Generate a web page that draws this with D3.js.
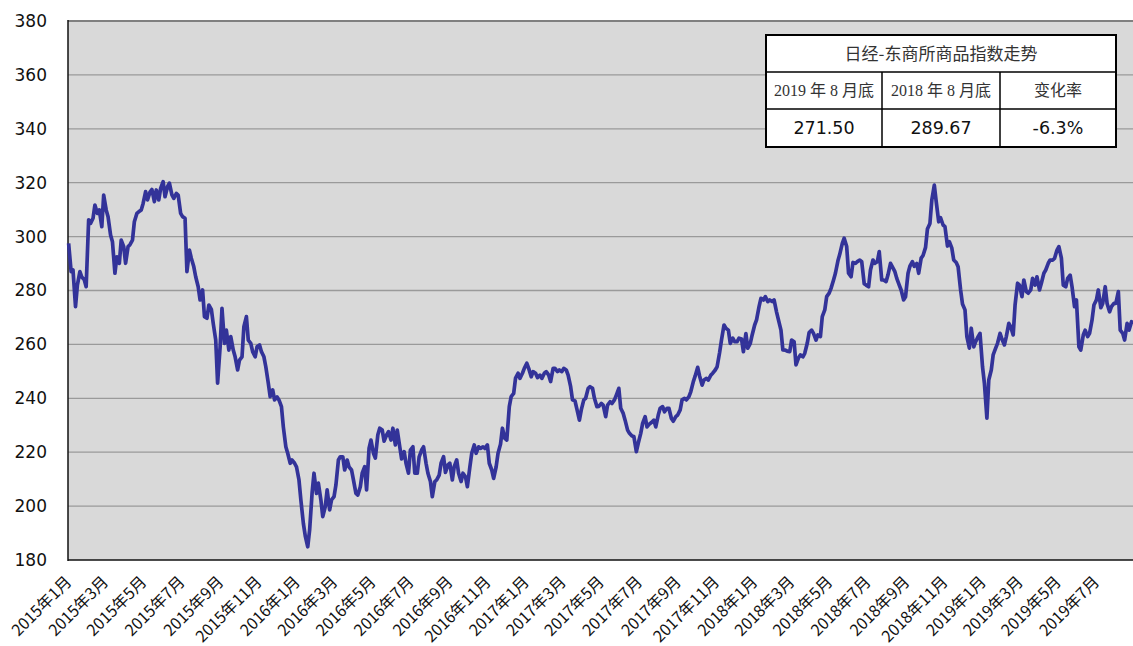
<!DOCTYPE html>
<html>
<head>
<meta charset="utf-8">
<script src="https://cdn.jsdelivr.net/npm/d3@7"></script>
<style>
  body { margin: 0; background: #fff; }
  svg { display: block; }
</style>
</head>
<body>
<div id="chart"></div>
<script>
// index values, read every half week starting 2015-01-02
const values = [
  297.5, 287, 287.6, 274, 282, 287, 285, 284, 281.4, 306.2,
  304.9, 306.8, 311.7, 308.6, 309.9, 303.7, 315.4, 309.9, 307.4, 300.6,
  298.1, 286.4, 292.5, 290.1, 298.7, 296.3, 290.1, 296.3, 297, 298.7,
  305.5, 308.6, 309.2, 309.9, 312.3, 316.7, 313.6, 316.5, 317.5, 313.0,
  317.3, 313.6, 317.9, 320.4, 314.8, 318.5, 319.8, 315.5, 314.2, 316.0,
  315.4, 308.6, 307.4, 306.8, 287.0, 295, 292, 288.8, 285.1, 281.4,
  276.5, 280.2, 270.3, 269.7, 274.6, 273, 267.8, 261.6, 245.6, 259,
  273.4, 260.4, 265.3, 257.9, 262.9, 257.9, 255.4, 250.5, 254.2, 255.4,
  266.6, 270.3, 261.6, 260.4, 257.3, 255.4, 259.1, 259.8, 257.3, 255.4,
  251.7, 245.6, 240.6, 243.1, 239.4, 240.5, 239.4, 236.9, 229.4, 222.0,
  219.6, 215.9, 217.1, 215.9, 214.6, 209.7, 202.3, 193.6, 189, 184.9,
  191.1, 205, 212.2, 204.7, 208.5, 202.3, 196.1, 199.8, 206.0, 198.6,
  202.3, 203.5, 207.8, 217.1, 218.3, 218.3, 213.4, 217.1, 214.5, 213.4,
  209.7, 204.7, 204.1, 207.2, 212.2, 214.6, 206.0, 221.5, 224.5, 219.6,
  217.8, 226.5, 228.9, 228.2, 224.1, 226.4, 227.6, 224.5, 228.9, 222.7,
  228.2, 222.0, 217.5, 220.2, 215.9, 212.2, 220.8, 222.0, 212.2, 212.2,
  218.3, 220.8, 222.0, 215.9, 212.2, 209.1, 203.5, 209.1, 209.7, 211.5,
  215.9, 218.3, 212.5, 215.3, 215.9, 209.7, 214.6, 217.1, 212.2, 209.1,
  212.2, 210.9, 207.2, 214.5, 219.6, 222.7, 219.6, 222.0, 221.4, 222.0,
  221.4, 222.7, 215.9, 213.4, 210.3, 214.6, 219.6, 223, 228.9, 225.1,
  224.5, 236.9, 240.6, 241.8, 247.5, 249.3, 247.4, 249.3, 251.1, 253.0,
  251.1, 248.0, 249.9, 249.3, 247.7, 248.6, 247.4, 249.3, 249.9, 248.6,
  246.2, 251.1, 251.1, 249.9, 250.5, 249.9, 251.1, 250.5, 248.6, 244.3,
  239.4, 239, 236, 231.9, 235.7, 239.4, 240.0, 243.7, 244.3, 243.7,
  240.0, 236.9, 237, 238.1, 237.5, 233.2, 237.5, 238.7, 238.1, 239.4,
  241.2, 243.7, 236.3, 234.4, 231.9, 228.2, 227.0, 226, 225.8, 220.2,
  223.3, 227.0, 230.7, 233.2, 229.4, 230.5, 231, 231.9, 229.4, 233.8,
  236.3, 236.9, 235.0, 236.3, 236.3, 232.5, 231.5, 233.2, 233.8, 235.7,
  239.4, 240.0, 239.4, 240.6, 242.5, 246.2, 248.3, 251.5, 248.3, 244.9,
  246.8, 247.4, 246.8, 248.6, 249.3, 250.5, 251.7, 257, 261.6, 267.2,
  266.0, 265.3, 260.4, 262.3, 261.0, 261.0, 262.3, 262, 257.3, 264,
  258.6, 260.4, 263.5, 267.2, 269.1, 274, 277.1, 276.5, 277.7, 275.9,
  276.5, 275.9, 276.5, 272, 269.1, 265.3, 258, 257.9, 257.5, 257.3,
  261.6, 261, 252.4, 255, 256.1, 255.4, 256.7, 260.4, 264.4, 265.3,
  264.1, 261.6, 263.5, 262.9, 270.3, 272.8, 277.7, 279.0, 280.8, 283.9,
  286.4, 291, 293.5, 297.5, 299.4, 296.3, 286.4, 285.1, 290.4, 290.1,
  290.7, 291.3, 290.7, 282.5, 282.0, 281.4, 287.6, 291.3, 290.1, 290.7,
  294.4, 283.9, 283.9, 283.3, 285.8, 290.1, 288.8, 287, 284.5, 282.0,
  280.2, 276.5, 277.7, 286.4, 289, 290.7, 289, 290, 286.4, 292,
  293, 296, 302.8, 304.9, 313.6, 319.1, 313.0, 305.5, 307, 304.3,
  303.7, 296.5, 298.1, 295.7, 291.3, 290.4, 288.8, 280.2, 275, 272.8,
  262.9, 258.6, 266.0, 259.1, 261, 262.9, 264.1, 251.7, 245.6, 232.6,
  246.8, 250.5, 256.1, 258.6, 260.4, 264.1, 262, 259.8, 262.9, 267.8,
  266.6, 263.5, 274.6, 282.7, 282.0, 277.7, 283.9, 279.6, 279.0, 280.2,
  284.5, 282.0, 285.1, 280.2, 282.7, 286.4, 287.6, 290.1, 291.3, 291.3,
  291.9, 295.0, 296.3, 292, 282.0, 281.4, 284.5, 285.7, 281.4, 274.0,
  276.5, 259.1, 257.9, 263.5, 265.3, 262.9, 264.1, 269.1, 274.6, 276.5,
  280.2, 273.6, 275.2, 281.4, 275.2, 272.1, 274.0, 275.2, 275.2, 279.6,
  265.3, 264.1, 261.6, 267.8, 265.3, 268.4, 267.8
];
const startDate = new Date(2015, 0, 2);
const dates = values.map((v, i) => d3.timeDay.offset(startDate, Math.round(i * 3.5)));

const yTicks = [180, 200, 220, 240, 260, 280, 300, 320, 340, 360, 380];
const xTickLabels = [
  "2015年1月", "2015年3月", "2015年5月", "2015年7月", "2015年9月", "2015年11月",
  "2016年1月", "2016年3月", "2016年5月", "2016年7月", "2016年9月", "2016年11月",
  "2017年1月", "2017年3月", "2017年5月", "2017年7月", "2017年9月", "2017年11月",
  "2018年1月", "2018年3月", "2018年5月", "2018年7月", "2018年9月", "2018年11月",
  "2019年1月", "2019年3月", "2019年5月", "2019年7月"
];
const xTickDates = d3.timeMonth.every(2).range(new Date(2015, 0, 1), new Date(2019, 7, 1));

const tableTitle = "日经-东商所商品指数走势";
const tableHeaders = ["2019 年 8 月底", "2018 年 8 月底", "变化率"];
const tableValues = ["271.50", "289.67", "-6.3%"];

const width = 1133, height = 646;
const plot = { left: 68, right: 1133, top: 21, bottom: 560 };

const x = d3.scaleTime()
  .domain([new Date(2015, 0, 1), new Date(2019, 7, 31)])
  .range([plot.left, 1134]);
const y = d3.scaleLinear().domain([180, 380]).range([plot.bottom, plot.top]);

const svg = d3.select("#chart").append("svg")
  .attr("width", width)
  .attr("height", height);

// plot background
svg.append("rect")
  .attr("x", plot.left).attr("y", plot.top)
  .attr("width", plot.right - plot.left).attr("height", plot.bottom - plot.top)
  .attr("fill", "#d9d9d9");

// gridlines
svg.append("g").selectAll("line")
  .data(yTicks.filter(t => t > 180))
  .join("line")
  .attr("x1", plot.left).attr("x2", plot.right)
  .attr("y1", d => y(d)).attr("y2", d => y(d))
  .attr("stroke", d => d === 380 ? "#808080" : "#9a9a9a")
  .attr("stroke-width", d => d === 380 ? 2 : 1.3);

// y axis labels
const yAxis = svg.append("g")
  .attr("transform", `translate(${plot.left},0)`)
  .call(d3.axisLeft(y).tickValues(yTicks).tickSize(0).tickPadding(21));
yAxis.select(".domain").remove();
yAxis.selectAll("text")
  .attr("font-family", "'DejaVu Sans', Verdana, sans-serif")
  .attr("font-size", 17)
  .attr("fill", "#111");

// x axis labels
const xAxis = svg.append("g")
  .attr("transform", `translate(0,${plot.bottom})`)
  .call(d3.axisBottom(x).tickValues(xTickDates).tickSize(0).tickFormat((d, i) => xTickLabels[i]));
xAxis.select(".domain").remove();
xAxis.selectAll("text")
  .attr("x", 0).attr("y", 0).attr("dy", 0)
  .attr("transform", "translate(4,23) rotate(-45)")
  .style("text-anchor", "end")
  .attr("font-family", "'Noto Sans CJK SC', sans-serif")
  .attr("font-size", 16)
  .attr("fill", "#111");

// axis lines
svg.append("line")
  .attr("x1", plot.left).attr("x2", plot.left)
  .attr("y1", plot.top - 1).attr("y2", plot.bottom + 1)
  .attr("stroke", "#111").attr("stroke-width", 1.5);
svg.append("line")
  .attr("x1", plot.left).attr("x2", plot.right)
  .attr("y1", plot.bottom).attr("y2", plot.bottom)
  .attr("stroke", "#111").attr("stroke-width", 1.5);

// index line
const line = d3.line()
  .x((d, i) => x(dates[i]))
  .y(d => y(d));
svg.append("path")
  .datum(values)
  .attr("d", line)
  .attr("fill", "none")
  .attr("stroke", "#333399")
  .attr("stroke-width", 3.7)
  .attr("stroke-linejoin", "round");

// summary table
const colX = [766, 882, 1000, 1116];
const rowY = [35, 72, 109, 147];
const table = svg.append("g");
table.append("rect")
  .attr("x", colX[0]).attr("y", rowY[0])
  .attr("width", colX[3] - colX[0]).attr("height", rowY[3] - rowY[0])
  .attr("fill", "#fff").attr("stroke", "#000").attr("stroke-width", 2);
table.selectAll(".hline")
  .data(rowY.slice(1, 3))
  .join("line")
  .attr("x1", colX[0]).attr("x2", colX[3])
  .attr("y1", d => d).attr("y2", d => d)
  .attr("stroke", "#000").attr("stroke-width", 1.5);
table.selectAll(".vline")
  .data(colX.slice(1, 3))
  .join("line")
  .attr("x1", d => d).attr("x2", d => d)
  .attr("y1", rowY[1]).attr("y2", rowY[3])
  .attr("stroke", "#000").attr("stroke-width", 1.5);

table.append("text")
  .attr("x", (colX[0] + colX[3]) / 2)
  .attr("y", (rowY[0] + rowY[1]) / 2)
  .attr("dy", "0.36em")
  .attr("text-anchor", "middle")
  .attr("font-family", "'Noto Sans CJK SC', sans-serif")
  .attr("font-size", 17)
  .attr("fill", "#333")
  .text(tableTitle);

table.selectAll(".hdr")
  .data(tableHeaders)
  .join("text")
  .attr("x", (d, i) => (colX[i] + colX[i + 1]) / 2)
  .attr("y", (rowY[1] + rowY[2]) / 2)
  .attr("dy", "0.36em")
  .attr("text-anchor", "middle")
  .attr("font-family", "'Liberation Serif', 'Noto Sans CJK SC', serif")
  .attr("font-size", 16)
  .attr("fill", "#333")
  .text(d => d);

table.selectAll(".val")
  .data(tableValues)
  .join("text")
  .attr("x", (d, i) => (colX[i] + colX[i + 1]) / 2)
  .attr("y", (rowY[2] + rowY[3]) / 2)
  .attr("dy", "0.36em")
  .attr("text-anchor", "middle")
  .attr("font-family", "'DejaVu Sans', Verdana, sans-serif")
  .attr("font-size", 17.5)
  .attr("fill", "#111")
  .text(d => d);
</script>
</body>
</html>
